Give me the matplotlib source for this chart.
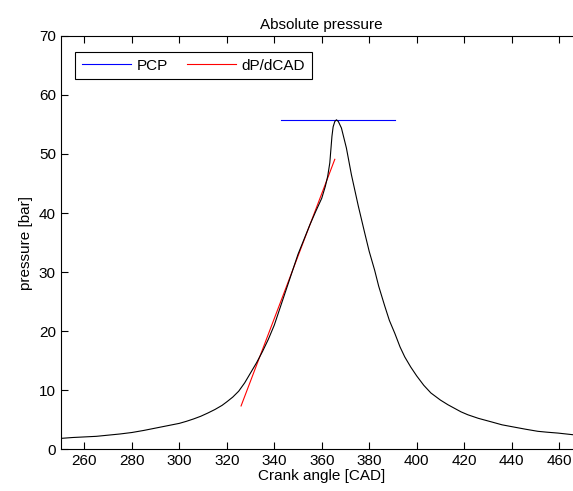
import numpy as np
import matplotlib.pyplot as plt

# pressure trace
cad = [250, 255, 260, 265, 270, 275, 280, 285, 290, 295, 300, 303, 306, 309,
       312, 315, 318, 320, 322.5, 325, 327.5, 330, 332.5, 335, 337.5, 340,
       342.5, 345, 347.5, 350, 352.5, 355, 357.5, 360, 361.5, 362.5, 363.4,
       363.9, 364.3, 364.8, 365.5, 366.2, 367, 368.3, 370.4, 372.5, 375.4,
       378, 380, 382.3, 384, 386.5, 388.5, 390.8, 393, 395, 397.5, 400, 403,
       406, 410, 413.2, 418.7, 421.6, 426, 431.5, 436, 441.3, 446, 451.1, 455,
       459.6, 466.4, 470]
pres = [1.8, 1.95, 2.05, 2.15, 2.35, 2.55, 2.8, 3.15, 3.55, 3.95, 4.35, 4.7,
        5.1, 5.55, 6.1, 6.7, 7.4, 8.0, 8.8, 9.8, 11.2, 12.9, 14.6, 16.5, 18.6,
        21.0, 24.0, 27.0, 30.0, 33.0, 35.5, 38.0, 40.3, 42.5, 44.5, 46.2, 48.5,
        51.0, 53.0, 54.6, 55.5, 55.8, 55.5, 54.4, 51.0, 46.5, 41.2, 36.8, 33.5,
        30.3, 27.6, 24.3, 21.8, 19.6, 17.3, 15.6, 13.9, 12.4, 10.8, 9.5, 8.3,
        7.5, 6.3, 5.8, 5.2, 4.6, 4.1, 3.7, 3.35, 3.0, 2.85, 2.7, 2.4, 2.3]

# peak pressure line
pcp_cad = [343, 391]
pcp_val = [55.8, 55.8]

# max slope tangent
tan_cad = [326, 365.5]
tan_val = [7.3, 49.1]

plt.rcParams['font.family'] = ['Liberation Sans', 'DejaVu Sans']
plt.rcParams['font.size'] = 11

fig = plt.figure(figsize=(5.73, 4.91), dpi=100)
ax = fig.add_axes([0.106, 0.0855, 0.911, 0.8412])

l1, = ax.plot(pcp_cad, pcp_val, color='#0000ff', lw=0.8, label='PCP')
l2, = ax.plot(tan_cad, tan_val, color='#ff0000', lw=0.8, label='dP/dCAD')
ax.plot(cad, pres, color='black', lw=0.8)

ax.set_xlim(250, 470)
ax.set_ylim(0, 70)
ax.set_xticks(np.arange(260, 461, 20))
ax.set_yticks(np.arange(0, 71, 10))
ax.tick_params(direction='in', top=True, right=True, length=5, width=0.8,
               colors='black', labelsize=11)
for s in ax.spines.values():
    s.set_linewidth(0.8)
    s.set_color('black')

ax.set_title('Absolute pressure', fontsize=11, pad=5)
ax.set_xlabel('Crank angle [CAD]', fontsize=11, labelpad=1)
ax.set_ylabel('pressure [bar]', fontsize=11, labelpad=4)

leg = ax.legend(handles=[l1, l2], loc='upper left', ncol=2, fancybox=False,
                edgecolor='black', framealpha=1, handlelength=3.2,
                handletextpad=0.4, columnspacing=1.2, borderpad=0.45,
                bbox_to_anchor=(0.028, 0.962), borderaxespad=0, fontsize=11)
leg.get_frame().set_linewidth(0.8)

fig.savefig('out.png', dpi=100)
